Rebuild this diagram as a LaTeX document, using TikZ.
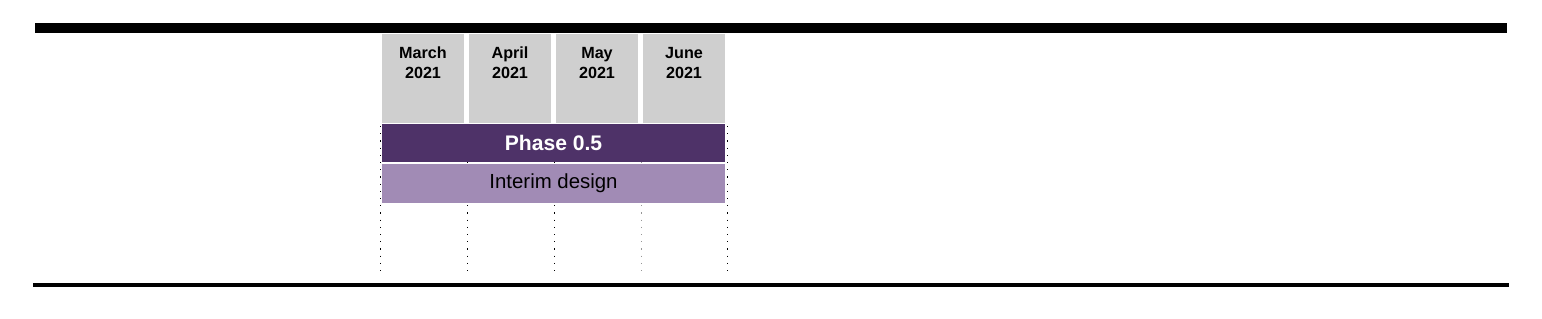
\documentclass[tikz,border=0pt]{standalone}
\usepackage{fontspec}
\setmainfont{Liberation Sans}
\usepackage{tikz}
\usetikzlibrary{positioning,calc}
\definecolor{ink}{RGB}{0,0,0}
\definecolor{monthgray}{RGB}{207,207,207}
\definecolor{plum}{RGB}{78,50,104}
\definecolor{lilac}{RGB}{161,139,181}
\definecolor{gridgray}{RGB}{150,150,150}
\tikzset{
  rule/.style={draw=ink,line cap=butt},
  month/.style={fill=monthgray,inner sep=0pt,minimum width=2.05cm,minimum height=2.225cm},
  monthlabel/.style={anchor=base,inner sep=0pt,align=center,text=ink,
    font=\bfseries\fontsize{11.5}{14.2}\selectfont},
  phasebar/.style={fill=plum,text=white,inner sep=0pt,minimum width=8.575cm,
    minimum height=0.95cm,font=\bfseries\fontsize{15}{18}\selectfont},
  taskbar/.style={fill=lilac,text=ink,inner sep=0pt,minimum width=8.575cm,
    minimum height=0.975cm,font=\fontsize{14.5}{17}\selectfont},
  gridline/.style={line width=0.5pt,ink,dash pattern=on 0.03cm off 0.15cm}
}

\begin{document}
\begin{tikzpicture}[x=0.025cm,y=-0.025cm]
  \useasboundingbox (0,0) rectangle (1542,319);
  % grid lines behind the bars
  \foreach \x/\col in {380/ink,467/ink,554/ink,641/gridgray,727/ink}
    {\coordinate (gt\x) at (\x,126); \coordinate (gb\x) at (\x,277);
     \draw[gridline,\col] (gt\x)--(gb\x);}
  % months
  \foreach \n/\x/\m in {mar/423/March,apr/510/April,may/597/May,jun/684/June}
    {\node[month] (\n) at (\x,78.5) {};
     \node[monthlabel] (\n lab) at ($(\n.north)+(0,45)$) {\m\\2021};}
  % bars
  \node[phasebar] (phase) at (553.5,143) {Phase 0.5};
  \node[taskbar] (interim) at (553.5,183.5) {Interim design};
  % top and bottom rules
  \coordinate (tl) at (35,28.5); \coordinate (tr) at (1507,28.5);
  \coordinate (bl) at (33,285); \coordinate (br) at (1509,285);
  \draw[rule,line width=0.25cm] (tl)--(tr);
  \draw[rule,line width=0.11cm] (bl)--(br);
\end{tikzpicture}
\end{document}
